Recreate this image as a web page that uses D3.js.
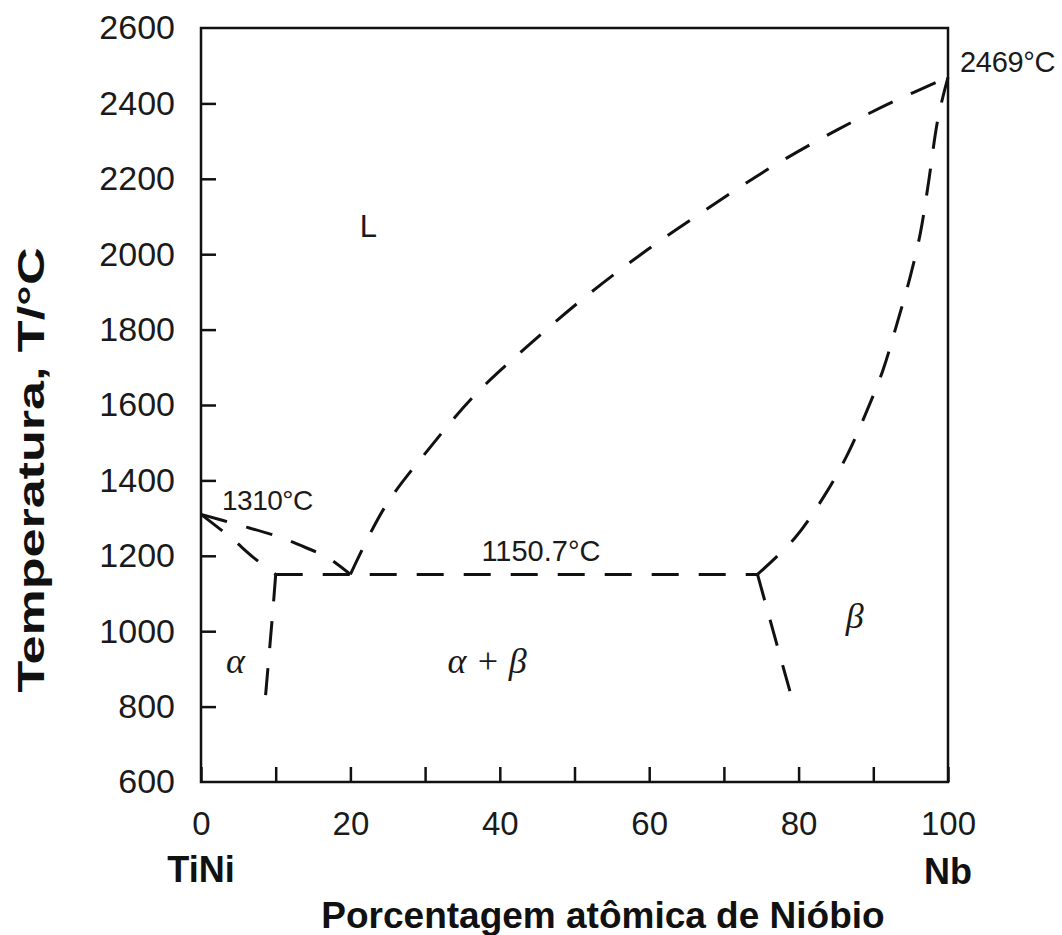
<!DOCTYPE html>
<html>
<head>
<meta charset="utf-8">
<script src="https://cdn.jsdelivr.net/npm/d3@7"></script>
<style>
  html, body { margin: 0; padding: 0; background: #fff; }
  svg { display: block; }
</style>
</head>
<body>
<svg id="chart" width="1062" height="935"></svg>
<script>
// Phase diagram TiNi – Nb: composition in at.% Nb, temperature in °C
const xTickValues = [0, 10, 20, 30, 40, 50, 60, 70, 80, 90, 100];
const xTickLabels = ["0", "", "20", "", "40", "", "60", "", "80", "", "100"];
const yTickValues = [600, 800, 1000, 1200, 1400, 1600, 1800, 2000, 2200, 2400, 2600];
const yTickLabels = ["600", "800", "1000", "1200", "1400", "1600", "1800", "2000", "2200", "2400", "2600"];

// phase boundaries [at.% Nb, T °C]
const liquidusTiNi = [[0, 1310], [5, 1282], [10, 1253], [14, 1222], [17, 1195], [20, 1150.7]];
const solidusTiNi  = [[0, 1310], [4, 1248], [7, 1196], [10, 1150.7]];
const solvusAlpha  = [[10, 1150.7], [9.6, 1050], [8.6, 820]];
const eutectic     = [[10, 1150.7], [74.5, 1150.7]];
const liquidusNb   = [[20, 1150.7], [24.6, 1329], [30.4, 1481], [36.7, 1627], [43.6, 1754],
                      [51.4, 1886], [59.7, 2011], [67.5, 2117], [76.2, 2229], [85.1, 2329],
                      [92.6, 2404], [100, 2469]];
const solidusNb    = [[74.5, 1150.7], [79.5, 1247], [83.5, 1361], [86.5, 1467], [88.9, 1573],
                      [91.3, 1693], [93.2, 1818], [94.9, 1937], [96.3, 2056], [97.3, 2178],
                      [98.7, 2364], [100, 2469]];
const solvusBeta   = [[74.5, 1150.7], [76.6, 1000], [79.2, 815]];

const boundaries = [liquidusTiNi, solidusTiNi, solvusAlpha, eutectic, liquidusNb, solidusNb, solvusBeta];

// temperature annotations [at.% Nb, T °C, text]
const tempNotes = [[0, 1310, "1310°C"], [100, 2469, "2469°C"], [20, 1150.7, "1150.7°C"]];
// phase region labels [at.% Nb, T °C, text]
const phaseLabels = [[22.4, 2046, "L"], [4.6, 890, "α"], [38.3, 890, "α + β"], [87.5, 1008, "β"]];

const svg = d3.select("#chart");
const x = d3.scaleLinear().domain([0, 100]).range([201, 948]);
const y = d3.scaleLinear().domain([600, 2600]).range([782, 28]);

const sans = "'Liberation Sans', Arial, Helvetica, sans-serif";
const serif = "'Liberation Serif', 'Times New Roman', serif";

// frame
svg.append("rect")
  .attr("x", x(0)).attr("y", y(2600))
  .attr("width", x(100) - x(0)).attr("height", y(600) - y(2600))
  .attr("fill", "none").attr("stroke", "#111").attr("stroke-width", 2.5);

// bottom axis, ticks pointing inward
const xAxis = d3.axisBottom(x)
  .tickValues(xTickValues)
  .tickSize(-15)
  .tickPadding(30)
  .tickFormat((d, i) => xTickLabels[i]);
const gx = svg.append("g").attr("transform", `translate(0,${y(600)})`).call(xAxis);
gx.select(".domain").remove();
gx.selectAll(".tick line").attr("stroke", "#111").attr("stroke-width", 2.5);
gx.selectAll(".tick text")
  .attr("font-family", sans).attr("font-size", 33).attr("fill", "#1a1a1a")
  .attr("dy", "0.71em");

// left axis, ticks pointing inward
const yAxis = d3.axisLeft(y)
  .tickValues(yTickValues)
  .tickSize(-15)
  .tickPadding(26)
  .tickFormat((d, i) => yTickLabels[i]);
const gy = svg.append("g").attr("transform", `translate(${x(0)},0)`).call(yAxis);
gy.select(".domain").remove();
gy.selectAll(".tick line")
  .attr("stroke", "#111").attr("stroke-width", 2.5)
  .attr("display", d => (d === 600 || d === 2600) ? "none" : null);
gy.selectAll(".tick text")
  .attr("font-family", sans).attr("font-size", 34).attr("fill", "#1a1a1a");

// phase boundaries
const line = d3.line()
  .x(d => x(d[0])).y(d => y(d[1]))
  .curve(d3.curveCatmullRom.alpha(0.5));
svg.append("g").selectAll("path")
  .data(boundaries)
  .join("path")
  .attr("d", line)
  .attr("fill", "none")
  .attr("stroke", "#111")
  .attr("stroke-width", 3)
  .attr("stroke-dasharray", "27 20");

// temperature annotations
const notePos = {
  "1310°C":   { dx: 21, dy: -4, size: 28, ls: -0.5 },
  "2469°C":   { dx: 12, dy: -5, size: 29, ls: -0.3 },
  "1150.7°C": { dx: 131, dy: -13, size: 29, ls: 0 }
};
svg.append("g").selectAll("text")
  .data(tempNotes)
  .join("text")
  .attr("x", d => x(d[0]) + notePos[d[2]].dx)
  .attr("y", d => y(d[1]) + notePos[d[2]].dy)
  .attr("text-anchor", "start")
  .attr("font-family", sans)
  .attr("font-size", d => notePos[d[2]].size)
  .attr("letter-spacing", d => notePos[d[2]].ls)
  .attr("fill", "#1a1a1a")
  .text(d => d[2]);

// phase region labels: liquid in upright sans, solid phases in italic serif
svg.append("g").selectAll("text")
  .data(phaseLabels)
  .join("text")
  .attr("x", d => x(d[0])).attr("y", d => y(d[1]))
  .attr("text-anchor", "middle")
  .attr("font-family", d => d[2] === "L" ? sans : serif)
  .attr("font-style", d => d[2] === "L" ? "normal" : "italic")
  .attr("font-size", d => d[2] === "L" ? 31 : 36)
  .attr("fill", "#1a1a1a")
  .text(d => d[2]);

// component names under the axis ends
svg.append("text")
  .attr("x", x(0)).attr("y", 882)
  .attr("text-anchor", "middle")
  .attr("font-family", sans).attr("font-weight", "bold").attr("font-size", 36).attr("fill", "#111")
  .text("TiNi");
svg.append("text")
  .attr("x", x(100)).attr("y", 884)
  .attr("text-anchor", "middle")
  .attr("font-family", sans).attr("font-weight", "bold").attr("font-size", 36).attr("fill", "#111")
  .text("Nb");

// axis titles
svg.append("text")
  .attr("x", 603).attr("y", 928)
  .attr("text-anchor", "middle")
  .attr("font-family", sans).attr("font-weight", "bold").attr("font-size", 37).attr("fill", "#111")
  .text("Porcentagem atômica de Nióbio");
svg.append("text")
  .attr("transform", "translate(44,470) rotate(-90)")
  .attr("text-anchor", "middle")
  .attr("font-family", sans).attr("font-weight", "bold").attr("font-size", 37).attr("fill", "#111")
  .attr("textLength", 445).attr("lengthAdjust", "spacingAndGlyphs")
  .text("Temperatura, T/°C");
</script>
</body>
</html>
